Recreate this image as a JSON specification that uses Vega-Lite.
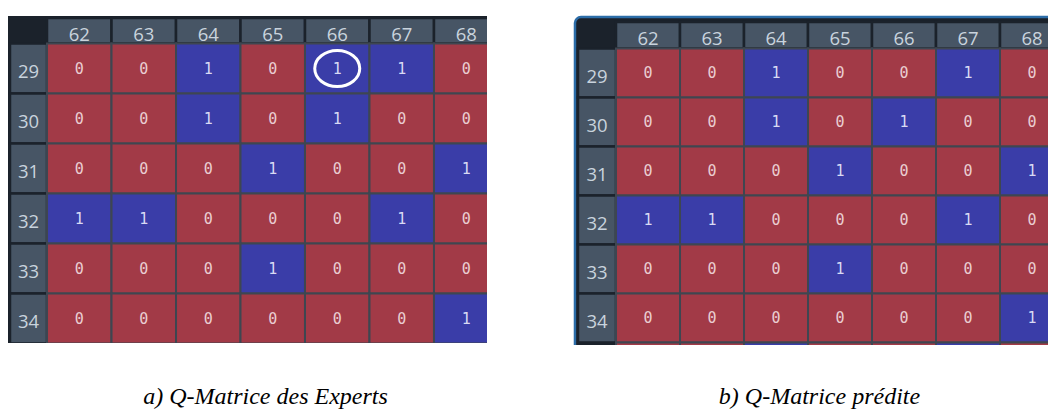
{
  "$schema": "https://vega.github.io/schema/vega-lite/v6.json",
  "padding": {"left": 8, "top": 15, "right": 0, "bottom": 0},
  "spacing": 86,
  "background": "white",
  "config": {"view": {"stroke": null}, "axis": {"disable": true}},
  "datasets": {
    "cols": [{"col": 62}, {"col": 63}, {"col": 64}, {"col": 65}, {"col": 66}, {"col": 67}, {"col": 68}],
    "rows": [{"row": 29}, {"row": 30}, {"row": 31}, {"row": 32}, {"row": 33}, {"row": 34}],
    "entoure": [{"row": 29, "col": 66}],
    "experts": [
      {"row": 29, "col": 62, "v": 0}, {"row": 29, "col": 63, "v": 0}, {"row": 29, "col": 64, "v": 1}, {"row": 29, "col": 65, "v": 0}, {"row": 29, "col": 66, "v": 1}, {"row": 29, "col": 67, "v": 1}, {"row": 29, "col": 68, "v": 0},
      {"row": 30, "col": 62, "v": 0}, {"row": 30, "col": 63, "v": 0}, {"row": 30, "col": 64, "v": 1}, {"row": 30, "col": 65, "v": 0}, {"row": 30, "col": 66, "v": 1}, {"row": 30, "col": 67, "v": 0}, {"row": 30, "col": 68, "v": 0},
      {"row": 31, "col": 62, "v": 0}, {"row": 31, "col": 63, "v": 0}, {"row": 31, "col": 64, "v": 0}, {"row": 31, "col": 65, "v": 1}, {"row": 31, "col": 66, "v": 0}, {"row": 31, "col": 67, "v": 0}, {"row": 31, "col": 68, "v": 1},
      {"row": 32, "col": 62, "v": 1}, {"row": 32, "col": 63, "v": 1}, {"row": 32, "col": 64, "v": 0}, {"row": 32, "col": 65, "v": 0}, {"row": 32, "col": 66, "v": 0}, {"row": 32, "col": 67, "v": 1}, {"row": 32, "col": 68, "v": 0},
      {"row": 33, "col": 62, "v": 0}, {"row": 33, "col": 63, "v": 0}, {"row": 33, "col": 64, "v": 0}, {"row": 33, "col": 65, "v": 1}, {"row": 33, "col": 66, "v": 0}, {"row": 33, "col": 67, "v": 0}, {"row": 33, "col": 68, "v": 0},
      {"row": 34, "col": 62, "v": 0}, {"row": 34, "col": 63, "v": 0}, {"row": 34, "col": 64, "v": 0}, {"row": 34, "col": 65, "v": 0}, {"row": 34, "col": 66, "v": 0}, {"row": 34, "col": 67, "v": 0}, {"row": 34, "col": 68, "v": 1}
    ],
    "predite": [
      {"row": 29, "col": 62, "v": 0}, {"row": 29, "col": 63, "v": 0}, {"row": 29, "col": 64, "v": 1}, {"row": 29, "col": 65, "v": 0}, {"row": 29, "col": 66, "v": 0}, {"row": 29, "col": 67, "v": 1}, {"row": 29, "col": 68, "v": 0},
      {"row": 30, "col": 62, "v": 0}, {"row": 30, "col": 63, "v": 0}, {"row": 30, "col": 64, "v": 1}, {"row": 30, "col": 65, "v": 0}, {"row": 30, "col": 66, "v": 1}, {"row": 30, "col": 67, "v": 0}, {"row": 30, "col": 68, "v": 0},
      {"row": 31, "col": 62, "v": 0}, {"row": 31, "col": 63, "v": 0}, {"row": 31, "col": 64, "v": 0}, {"row": 31, "col": 65, "v": 1}, {"row": 31, "col": 66, "v": 0}, {"row": 31, "col": 67, "v": 0}, {"row": 31, "col": 68, "v": 1},
      {"row": 32, "col": 62, "v": 1}, {"row": 32, "col": 63, "v": 1}, {"row": 32, "col": 64, "v": 0}, {"row": 32, "col": 65, "v": 0}, {"row": 32, "col": 66, "v": 0}, {"row": 32, "col": 67, "v": 1}, {"row": 32, "col": 68, "v": 0},
      {"row": 33, "col": 62, "v": 0}, {"row": 33, "col": 63, "v": 0}, {"row": 33, "col": 64, "v": 0}, {"row": 33, "col": 65, "v": 1}, {"row": 33, "col": 66, "v": 0}, {"row": 33, "col": 67, "v": 0}, {"row": 33, "col": 68, "v": 0},
      {"row": 34, "col": 62, "v": 0}, {"row": 34, "col": 63, "v": 0}, {"row": 34, "col": 64, "v": 0}, {"row": 34, "col": 65, "v": 0}, {"row": 34, "col": 66, "v": 0}, {"row": 34, "col": 67, "v": 0}, {"row": 34, "col": 68, "v": 1},
      {"row": 35, "col": 62, "v": 0}, {"row": 35, "col": 63, "v": 0}, {"row": 35, "col": 64, "v": 1}, {"row": 35, "col": 65, "v": 0}, {"row": 35, "col": 66, "v": 0}, {"row": 35, "col": 67, "v": 1}, {"row": 35, "col": 68, "v": 0}
    ]
  },
  "hconcat": [
    {
      "width": 479,
      "height": 328,
      "title": {"text": "a) Q-Matrice des Experts", "orient": "bottom", "anchor": "middle", "font": "Liberation Serif", "fontStyle": "italic", "fontWeight": "normal", "fontSize": 24, "color": "#000000", "offset": 61, "dx": 18, "baseline": "alphabetic"},
      "layer": [
        {
          "data": {"values": [{}]},
          "mark": {"type": "rect", "fill": "#1B222B", "clip": true},
          "encoding": {
            "x": {"datum": 60.85, "type": "quantitative", "scale": {"domain": [60.895, 68.322], "nice": false, "zero": false}},
            "x2": {"datum": 69},
            "y": {"datum": 27.95, "type": "quantitative", "scale": {"domain": [27.93, 34.49], "nice": false, "zero": false, "reverse": true}},
            "y2": {"datum": 35}
          }
        },
        {
          "data": {"name": "cols"},
          "transform": [{"calculate": "datum.col - 0.5", "as": "x0"}, {"calculate": "datum.col + 0.5", "as": "x1"}],
          "mark": {"type": "rect", "fill": "#475565", "stroke": "#1B222B", "strokeWidth": 2.5, "clip": true},
          "encoding": {
            "x": {"field": "x0", "type": "quantitative"},
            "x2": {"field": "x1"},
            "y": {"datum": 27.99, "type": "quantitative"},
            "y2": {"datum": 28.5}
          }
        },
        {
          "data": {"name": "rows"},
          "transform": [{"calculate": "datum.row - 0.5", "as": "y0"}, {"calculate": "datum.row + 0.5", "as": "y1"}],
          "mark": {"type": "rect", "fill": "#475565", "stroke": "#1B222B", "strokeWidth": 2.5, "clip": true},
          "encoding": {
            "x": {"datum": 60.926, "type": "quantitative"},
            "x2": {"datum": 61.5},
            "y": {"field": "y0", "type": "quantitative"},
            "y2": {"field": "y1"}
          }
        },
        {
          "data": {"name": "experts"},
          "transform": [
            {"calculate": "datum.col - 0.5", "as": "x0"}, {"calculate": "datum.col + 0.5", "as": "x1"},
            {"calculate": "datum.row - 0.5", "as": "y0"}, {"calculate": "datum.row + 0.5", "as": "y1"}
          ],
          "mark": {"type": "rect", "stroke": "#3E4651", "strokeWidth": 2, "clip": true},
          "encoding": {
            "x": {"field": "x0", "type": "quantitative"},
            "x2": {"field": "x1"},
            "y": {"field": "y0", "type": "quantitative"},
            "y2": {"field": "y1"},
            "fill": {"field": "v", "type": "nominal", "scale": {"domain": [0, 1], "range": ["#A23A47", "#3A3DA8"]}, "legend": null}
          }
        },
        {
          "data": {"name": "experts"},
          "mark": {"type": "text", "font": "DejaVu Sans Mono", "fontSize": 15, "align": "center", "baseline": "middle", "clip": true},
          "encoding": {
            "x": {"field": "col", "type": "quantitative"},
            "y": {"field": "row", "type": "quantitative"},
            "text": {"field": "v", "type": "nominal"},
            "color": {"condition": {"test": "datum.v == 1", "value": "#D8DAF4"}, "value": "#EACDD2"}
          }
        },
        {
          "data": {"name": "cols"},
          "mark": {"type": "text", "font": "Open Sans", "fontSize": 18.5, "align": "center", "baseline": "alphabetic", "dy": -2.5, "color": "#C9D3DD", "clip": true},
          "encoding": {
            "x": {"field": "col", "type": "quantitative"},
            "y": {"datum": 28.5, "type": "quantitative"},
            "text": {"field": "col", "type": "nominal"}
          }
        },
        {
          "data": {"name": "rows"},
          "mark": {"type": "text", "font": "Open Sans", "fontSize": 18.5, "align": "center", "baseline": "alphabetic", "dy": 9.5, "color": "#C9D3DD", "clip": true},
          "encoding": {
            "x": {"datum": 61.213, "type": "quantitative"},
            "y": {"field": "row", "type": "quantitative"},
            "text": {"field": "row", "type": "nominal"}
          }
        },
        {
          "data": {"name": "entoure"},
          "mark": {"type": "point", "shape": "M-1.25,0A1.25,1,0,1,0,1.25,0A1.25,1,0,1,0,-1.25,0Z", "size": 1296, "filled": false, "stroke": "#FFFFFF", "strokeWidth": 3, "opacity": 1},
          "encoding": {
            "x": {"field": "col", "type": "quantitative"},
            "y": {"field": "row", "type": "quantitative"}
          }
        }
      ]
    },
    {
      "width": 475,
      "height": 330,
      "title": {"text": "b) Q-Matrice prédite", "orient": "bottom", "anchor": "middle", "font": "Liberation Serif", "fontStyle": "italic", "fontWeight": "normal", "fontSize": 24, "color": "#000000", "offset": 59, "dx": 9, "baseline": "alphabetic"},
      "layer": [
        {
          "data": {"values": [{}]},
          "mark": {"type": "rect", "fill": "#1B222B", "stroke": "#2C6DA8", "strokeWidth": 2.5, "cornerRadius": 6, "clip": true},
          "encoding": {
            "x": {"datum": 60.859, "type": "quantitative", "scale": {"domain": [60.828, 68.25], "nice": false, "zero": false}},
            "x2": {"datum": 69},
            "y": {"datum": 27.857, "type": "quantitative", "scale": {"domain": [27.816, 34.551], "nice": false, "zero": false, "reverse": true}},
            "y2": {"datum": 35.5}
          }
        },
        {
          "data": {"name": "cols"},
          "transform": [{"calculate": "datum.col - 0.5", "as": "x0"}, {"calculate": "datum.col + 0.5", "as": "x1"}],
          "mark": {"type": "rect", "fill": "#475565", "stroke": "#1B222B", "strokeWidth": 2.5, "clip": true},
          "encoding": {
            "x": {"field": "x0", "type": "quantitative"},
            "x2": {"field": "x1"},
            "y": {"datum": 27.959, "type": "quantitative"},
            "y2": {"datum": 28.5}
          }
        },
        {
          "data": {"name": "rows"},
          "transform": [{"calculate": "datum.row - 0.5", "as": "y0"}, {"calculate": "datum.row + 0.5", "as": "y1"}],
          "mark": {"type": "rect", "fill": "#475565", "stroke": "#1B222B", "strokeWidth": 2.5, "clip": true},
          "encoding": {
            "x": {"datum": 60.906, "type": "quantitative"},
            "x2": {"datum": 61.5},
            "y": {"field": "y0", "type": "quantitative"},
            "y2": {"field": "y1"}
          }
        },
        {
          "data": {"name": "predite"},
          "transform": [
            {"calculate": "datum.col - 0.5", "as": "x0"}, {"calculate": "datum.col + 0.5", "as": "x1"},
            {"calculate": "datum.row - 0.5", "as": "y0"}, {"calculate": "datum.row + 0.5", "as": "y1"}
          ],
          "mark": {"type": "rect", "stroke": "#3E4651", "strokeWidth": 2, "clip": true},
          "encoding": {
            "x": {"field": "x0", "type": "quantitative"},
            "x2": {"field": "x1"},
            "y": {"field": "y0", "type": "quantitative"},
            "y2": {"field": "y1"},
            "fill": {"field": "v", "type": "nominal", "scale": {"domain": [0, 1], "range": ["#A23A47", "#3A3DA8"]}, "legend": null}
          }
        },
        {
          "data": {"name": "predite"},
          "transform": [{"filter": "datum.row <= 34"}],
          "mark": {"type": "text", "font": "DejaVu Sans Mono", "fontSize": 15, "align": "center", "baseline": "middle", "clip": true},
          "encoding": {
            "x": {"field": "col", "type": "quantitative"},
            "y": {"field": "row", "type": "quantitative"},
            "text": {"field": "v", "type": "nominal"},
            "color": {"condition": {"test": "datum.v == 1", "value": "#D8DAF4"}, "value": "#EACDD2"}
          }
        },
        {
          "data": {"name": "cols"},
          "mark": {"type": "text", "font": "Open Sans", "fontSize": 18.5, "align": "center", "baseline": "alphabetic", "dy": -3.5, "color": "#C9D3DD", "clip": true},
          "encoding": {
            "x": {"field": "col", "type": "quantitative"},
            "y": {"datum": 28.5, "type": "quantitative"},
            "text": {"field": "col", "type": "nominal"}
          }
        },
        {
          "data": {"name": "rows"},
          "mark": {"type": "text", "font": "Open Sans", "fontSize": 18.5, "align": "center", "baseline": "alphabetic", "dy": 10, "color": "#C9D3DD", "clip": true},
          "encoding": {
            "x": {"datum": 61.203, "type": "quantitative"},
            "y": {"field": "row", "type": "quantitative"},
            "text": {"field": "row", "type": "nominal"}
          }
        }
      ]
    }
  ]
}
